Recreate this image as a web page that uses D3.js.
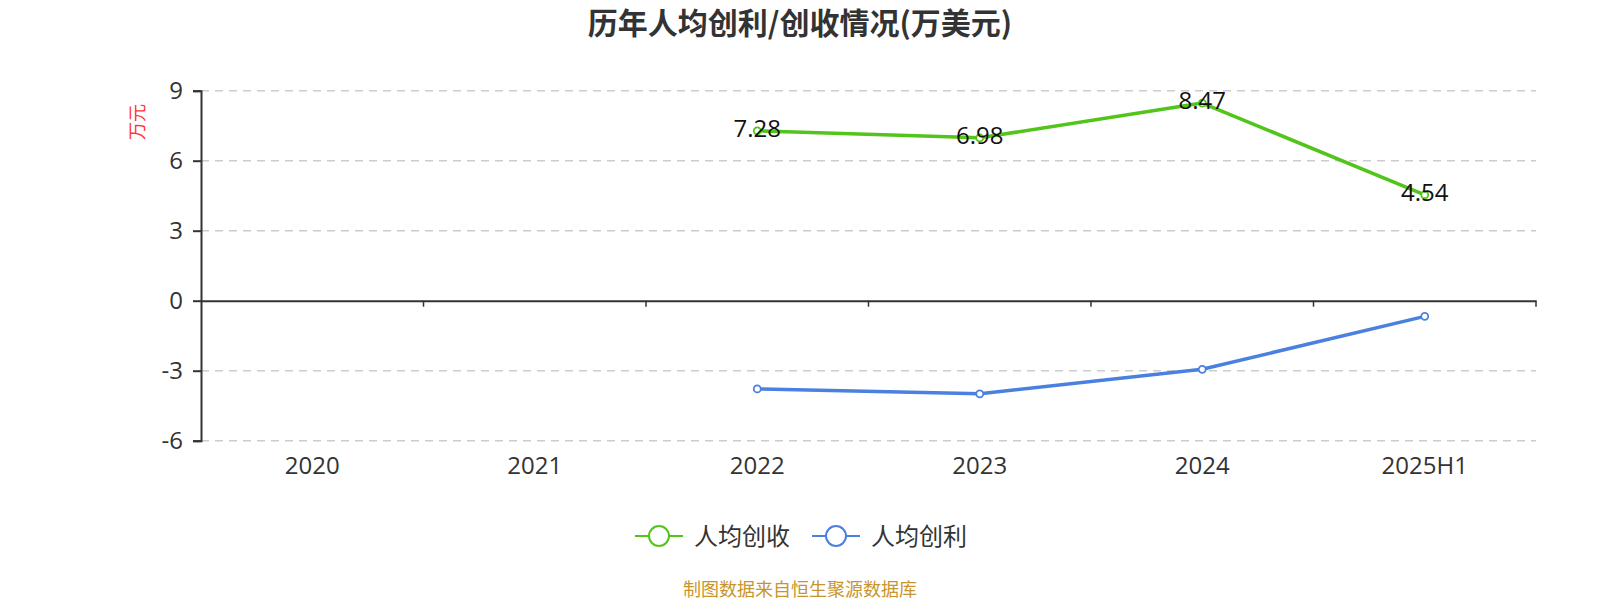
<!DOCTYPE html>
<html><head><meta charset="utf-8">
<script src="https://cdn.jsdelivr.net/npm/d3@7/dist/d3.min.js"></script>
<style>
html,body{margin:0;padding:0;background:#fff;}
svg{display:block;font-family:"Open Sans","Noto Sans","Noto Sans CJK SC",sans-serif;}
</style></head><body>
<svg id="chart" width="1600" height="600"></svg>
<script>
const categories = ["2020","2021","2022","2023","2024","2025H1"];
const revenuePerCapita = [null,null,7.28,6.98,8.47,4.54];
const profitPerCapita = [null,null,-3.78,-3.99,-2.94,-0.67];
const yTicks = [-6,-3,0,3,6,9];
const seriesNames = ["人均创收","人均创利"];
const colors = ["#52c41a","#4a80e0"];

const svg = d3.select("#chart");
const pLeft = 201, pRight = 1536, pTop = 90.7, pBottom = 440.7;
const x = d3.scaleBand().domain(categories).range([pLeft,pRight]);
const y = d3.scaleLinear().domain([-6,9]).range([pBottom,pTop]);
const numFont = "'Open Sans','Noto Sans',sans-serif";
const cjkFont = "'Noto Sans CJK SC',sans-serif";

// title
svg.append("text").attr("x",800).attr("y",34).attr("text-anchor","middle")
  .attr("font-size",30).attr("font-weight","bold").attr("fill","#333")
  .attr("font-family",cjkFont)
  .text("历年人均创利/创收情况(万美元)");

// grid
svg.append("g").selectAll("line").data(yTicks.filter(d=>d!==0)).join("line")
  .attr("x1",pLeft).attr("x2",pRight).attr("y1",d=>y(d)).attr("y2",d=>y(d))
  .attr("stroke","#ccc").attr("stroke-width",1.5).attr("stroke-dasharray","8,6");

// y axis
const yAxis = svg.append("g").attr("transform",`translate(${pLeft},0)`)
  .call(d3.axisLeft(y).tickValues(yTicks).tickSize(8).tickPadding(10).tickFormat(d=>String(d)));
yAxis.attr("font-family",numFont);
yAxis.select(".domain").attr("stroke","#333").attr("stroke-width",2);
yAxis.selectAll(".tick line").attr("stroke","#333").attr("stroke-width",2);
yAxis.selectAll(".tick text").attr("font-size",24).attr("fill","#333");

// x axis at zero
const xAxis = svg.append("g").attr("transform",`translate(0,${y(0)})`)
  .call(d3.axisBottom(x).tickSize(0).tickFormat(""));
xAxis.select(".domain").attr("stroke","#333").attr("stroke-width",2);
xAxis.selectAll(".tick").remove();
const bounds = categories.map(c=>x(c)+x.bandwidth());
xAxis.selectAll("line.bt").data(bounds).join("line").attr("class","bt")
  .attr("x1",d=>d).attr("x2",d=>d).attr("y1",0).attr("y2",6)
  .attr("stroke","#333").attr("stroke-width",1.5);
svg.append("g").attr("font-family",numFont).selectAll("text").data(categories).join("text")
  .attr("x",d=>x(d)+x.bandwidth()/2).attr("y",474)
  .attr("text-anchor","middle").attr("font-size",24).attr("fill","#333").text(d=>d);

// y axis name
svg.append("text").attr("transform","translate(144,122) rotate(-90)")
  .attr("text-anchor","middle").attr("font-size",18).attr("fill","#ff3333")
  .attr("font-family",cjkFont).text("万元");

// lines
const line = d3.line().defined(d=>d.v!=null).x(d=>x(d.c)+x.bandwidth()/2).y(d=>y(d.v));
[revenuePerCapita, profitPerCapita].forEach((vals,si)=>{
  const data = categories.map((c,i)=>({c,v:vals[i]}));
  svg.append("path").datum(data).attr("d",line).attr("fill","none")
    .attr("stroke",colors[si]).attr("stroke-width",3.5).attr("stroke-linejoin","round");
  svg.append("g").selectAll("circle").data(data.filter(d=>d.v!=null)).join("circle")
    .attr("cx",d=>x(d.c)+x.bandwidth()/2).attr("cy",d=>y(d.v)).attr("r",3.5)
    .attr("fill","#fff").attr("stroke",colors[si]).attr("stroke-width",1.8);
  if(si===0){
    svg.append("g").attr("font-family",numFont).selectAll("text").data(data.filter(d=>d.v!=null)).join("text")
      .attr("x",d=>x(d.c)+x.bandwidth()/2).attr("y",d=>y(d.v)+6)
      .attr("text-anchor","middle").attr("font-size",24).attr("fill","#111")
      .text(d=>d.v.toFixed(2));
  }
});

// legend
const legendY = 536;
const legendX = [635, 812];
seriesNames.forEach((n,i)=>{
  const g = svg.append("g").attr("transform",`translate(${legendX[i]},${legendY})`);
  g.append("line").attr("x1",0).attr("x2",48).attr("y1",0).attr("y2",0)
    .attr("stroke",colors[i]).attr("stroke-width",2);
  g.append("circle").attr("cx",24).attr("cy",0).attr("r",10)
    .attr("fill","#fff").attr("stroke",colors[i]).attr("stroke-width",2);
  g.append("text").attr("x",59).attr("y",8.5).attr("font-size",24).attr("fill","#333")
    .attr("font-family",cjkFont).text(n);
});

// footer
svg.append("text").attr("x",800).attr("y",596).attr("text-anchor","middle")
  .attr("font-size",18).attr("fill","#c8952c")
  .attr("font-family",cjkFont).text("制图数据来自恒生聚源数据库");
</script>
</body></html>
